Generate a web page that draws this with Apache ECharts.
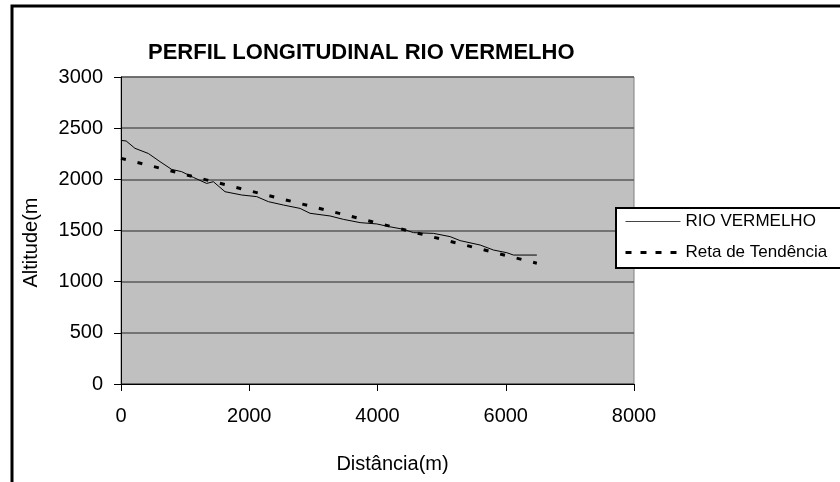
<!DOCTYPE html>
<html>
<head>
<meta charset="utf-8">
<script src="https://cdn.jsdelivr.net/npm/echarts@6/dist/echarts.min.js"></script>
<style>
  html, body { margin: 0; padding: 0; background: #fff; }
  #chart { width: 840px; height: 482px; }
</style>
</head>
<body>
<div id="chart"></div>
<script>
// river profile
var distList = [0, 80, 218, 425, 608, 790, 946, 1128, 1336, 1440, 1622, 1882, 2117, 2298, 2532, 2792,
                2948, 3260, 3468, 3729, 3989, 4186, 4405, 4561, 4873, 5133, 5289, 5601, 5809, 6017, 6121, 6485];
var altList = [2380, 2375, 2303, 2253, 2173, 2097, 2075, 2019, 1960, 1977, 1879, 1847, 1831, 1782, 1749, 1716,
               1668, 1642, 1609, 1577, 1564, 1537, 1512, 1479, 1472, 1440, 1401, 1358, 1309, 1283, 1260, 1260];

// trend line end points
var trendDist = [0, 6485];
var trendAlt = [2205, 1180];

var seriesNames = ['RIO VERMELHO', 'Reta de Tendência'];

var dom = document.getElementById("chart");
var myChart = echarts.init(dom);
var option = null;

var font = "'Liberation Sans', Arial, sans-serif";

function pairs(xs, ys) {
    var out = [];
    for (var i = 0; i < xs.length; i++) out.push([xs[i], ys[i]]);
    return out;
}

function plain(v) { return String(v); }

option = {
    backgroundColor: '#ffffff',
    animation: false,
    textStyle: { fontFamily: font, color: '#000' },

    // outer frame (only top and left edges are visible)
    graphic: [{
        type: 'rect',
        shape: { x: 12, y: 6, width: 900, height: 600 },
        style: { fill: 'none', stroke: '#000', lineWidth: 3 },
        silent: true
    }],

    title: {
        text: 'PERFIL LONGITUDINAL RIO VERMELHO',
        left: 148,
        top: 42,
        padding: 0,
        textStyle: { fontFamily: font, fontSize: 22, fontWeight: 'bold', color: '#000' }
    },

    legend: {
        orient: 'vertical',
        left: 616,
        top: 208,
        padding: [5, 60, 7, 8],
        itemWidth: 55,
        itemHeight: 14,
        itemGap: 14,
        borderColor: '#000',
        borderWidth: 2,
        backgroundColor: '#fff',
        itemStyle: { opacity: 0 },
        textStyle: { fontFamily: font, fontSize: 17, color: '#000' },
        data: [
            { name: seriesNames[0], lineStyle: { width: 1, color: '#444' } },
            { name: seriesNames[1], lineStyle: { width: 3, color: '#000', type: [6, 9] } }
        ]
    },

    grid: {
        left: 121,
        top: 77,
        right: 206,
        bottom: 98,
        show: true,
        backgroundColor: '#c0c0c0',
        borderColor: '#808080',
        borderWidth: 1
    },

    xAxis: {
        type: 'value',
        min: 0,
        max: 8000,
        interval: 2000,
        name: 'Distância(m)',
        nameLocation: 'middle',
        nameGap: 70,
        nameTextStyle: { fontFamily: font, fontSize: 20, color: '#000', padding: [0, 0, 0, 30] },
        axisLine: { lineStyle: { color: '#000', width: 1 } },
        axisTick: { show: true, length: 7, lineStyle: { color: '#000' } },
        axisLabel: { fontFamily: font, fontSize: 20, color: '#000', margin: 22, formatter: plain },
        splitLine: { show: false }
    },

    yAxis: {
        type: 'value',
        min: 0,
        max: 3000,
        interval: 500,
        name: 'Altitude(m',
        nameLocation: 'middle',
        nameGap: 80,
        nameTextStyle: { fontFamily: font, fontSize: 20, color: '#000', padding: [0, 24, 0, 0] },
        axisLine: { show: true, lineStyle: { color: '#000', width: 1 } },
        axisTick: { show: true, length: 7, lineStyle: { color: '#000' } },
        axisLabel: { fontFamily: font, fontSize: 20, color: '#000', margin: 18, formatter: plain },
        splitLine: { show: true, lineStyle: { color: '#5a5a5a', width: 1.5 } }
    },

    series: [{
        name: seriesNames[0],
        type: 'line',
        showSymbol: false,
        symbol: 'none',
        data: pairs(distList, altList),
        lineStyle: { color: '#000', width: 1 },
        itemStyle: { color: '#000' }
    }, {
        name: seriesNames[1],
        type: 'line',
        showSymbol: false,
        symbol: 'none',
        data: pairs(trendDist, trendAlt),
        lineStyle: { color: '#000', width: 3, type: [5, 12] },
        itemStyle: { color: '#000' }
    }]
};

if (option && typeof option === "object") {
    myChart.setOption(option, true);
}
</script>
</body>
</html>
